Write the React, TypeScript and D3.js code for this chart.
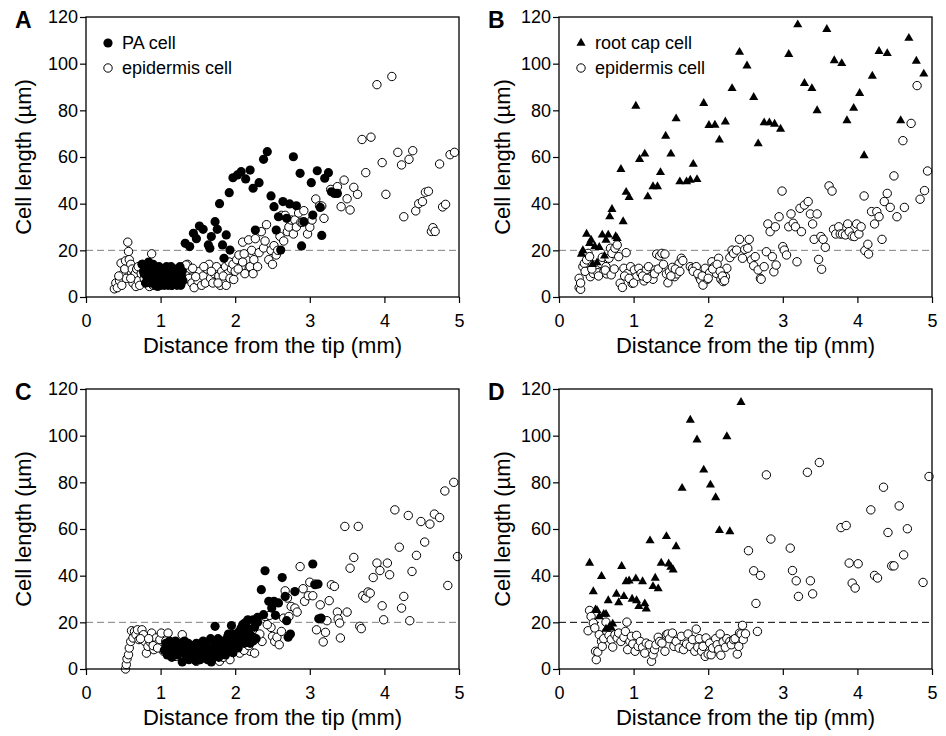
import * as d3 from 'd3';
import React, { useRef, useEffect } from 'react';

type Pt = [number, number];

const xTicks = [0, 1, 2, 3, 4, 5];
const yTicks = [0, 20, 40, 60, 80, 100, 120];
const threshold = 20;

// panel A: PA cells (filled circles)
const paA: Pt[] = [
  [0.75, 14], [0.77, 11], [0.8, 13], [0.82, 8], [0.84, 15], [0.86, 10], [0.87, 6], [0.88, 12], [0.9, 14],
  [0.92, 9], [0.93, 5], [0.95, 11], [0.96, 7], [0.98, 13], [1.0, 9], [1.01, 6], [1.02, 12], [1.04, 8],
  [1.05, 5], [1.06, 10], [1.08, 13], [1.09, 7], [1.1, 11], [1.12, 6], [1.13, 9], [1.14, 13], [1.15, 5],
  [1.16, 8], [1.18, 11], [1.19, 6], [1.2, 12], [1.21, 9], [1.22, 5], [1.24, 10], [1.25, 7], [1.26, 13],
  [1.27, 5], [1.28, 9], [1.29, 11], [1.3, 7], [0.8, 6], [0.85, 9], [0.9, 7], [1.0, 11], [1.1, 5], [0.96, 4.5],
  [1.16, 12], [0.78, 10], [0.88, 8], [1.03, 7], [1.17, 10],
  [1.33, 23], [1.39, 21.6], [1.44, 27.3], [1.48, 25], [1.52, 30.4], [1.57, 29], [1.64, 22.3], [1.68, 25.9],
  [1.73, 32.3], [1.76, 29], [1.66, 20.9], [1.79, 40], [1.83, 22.3], [1.85, 16.6], [1.88, 26.6], [1.93, 20.1],
  [1.92, 44.7], [1.97, 51.1], [2.03, 52.3], [2.08, 53.7], [2.14, 50.6], [2.2, 54.4], [2.24, 46.6], [2.32, 49],
  [2.27, 28.7], [2.38, 59], [2.43, 62.3], [2.48, 43.3], [2.52, 38.7], [2.55, 28.7], [2.58, 34.4], [2.61, 20.1],
  [2.64, 40.9], [2.69, 33.7], [2.73, 39.9], [2.78, 60.1], [2.82, 39.1], [2.87, 53], [2.89, 21.9], [2.92, 32.3],
  [3.02, 49], [3.04, 35.1], [3.1, 54.1], [3.14, 38.4], [3.16, 26.4], [3.2, 50.9], [3.25, 53.3], [3.29, 45.1],
  [3.33, 44.4], [3.37, 44.4]
];

// panel A: epidermis cells (open circles)
const epiA: Pt[] = [
  [0.38, 3.5], [0.4, 6], [0.42, 4], [0.45, 7], [0.47, 14.5], [0.48, 5], [0.5, 10], [0.52, 12], [0.53, 15.5],
  [0.54, 8], [0.56, 23.5], [0.57, 19.5], [0.58, 16], [0.6, 14], [0.62, 12], [0.63, 6], [0.64, 9], [0.66, 10],
  [0.67, 4.5], [0.68, 12], [0.7, 7], [0.72, 5], [0.74, 10], [0.76, 14], [0.78, 8], [0.8, 6], [0.82, 12],
  [0.85, 4.5], [0.88, 18.5], [0.9, 5], [0.92, 11], [0.95, 7], [1.0, 5], [1.05, 8], [1.1, 6], [1.15, 5],
  [1.2, 9], [1.3, 13], [1.33, 10], [1.36, 14], [1.38, 8], [1.4, 12], [1.42, 6], [1.45, 4], [1.48, 9],
  [1.5, 7], [1.52, 11], [1.55, 5], [1.57, 9], [1.6, 6], [1.62, 12], [1.65, 14], [1.67, 8], [1.7, 6],
  [1.72, 10], [1.75, 13], [1.78, 9], [1.8, 5], [1.82, 11], [1.85, 7], [1.87, 13], [1.88, 5], [1.9, 10],
  [1.92, 15], [1.95, 12], [1.97, 14], [2.0, 11], [2.02, 16], [2.05, 18], [2.08, 13], [2.1, 23.5], [2.13, 10],
  [2.15, 16], [2.18, 24.5], [2.2, 13], [2.22, 20], [2.24, 10], [2.25, 16], [2.27, 25], [2.3, 13], [2.32, 19],
  [2.35, 28], [2.38, 21], [2.4, 24], [2.42, 31], [2.45, 16], [2.48, 20], [2.5, 14], [2.52, 22], [2.55, 18],
  [2.57, 20], [2.6, 26], [2.62, 35], [2.65, 24], [2.67, 35], [2.7, 28], [2.72, 30], [2.75, 33], [2.78, 27],
  [2.8, 33], [2.82, 30], [2.85, 36], [2.88, 32], [2.9, 32], [2.92, 37], [2.97, 27], [3.0, 29.9], [3.03, 33],
  [3.08, 42], [3.13, 39.1], [3.19, 33.7], [3.16, 39], [3.28, 46.1], [3.37, 47.3], [3.42, 38.7], [3.46, 50.1],
  [3.5, 42.1], [3.54, 37.3], [3.59, 47], [3.64, 44], [3.7, 67.5], [3.75, 53.3], [3.82, 68.5], [3.9, 91],
  [3.97, 57.6], [4.02, 44], [4.1, 94.5], [4.18, 62], [4.23, 56.6], [4.26, 34.4], [4.33, 59], [4.38, 62.7],
  [4.42, 36.9], [4.46, 40], [4.51, 40.9], [4.55, 44.9], [4.59, 45.3], [4.63, 28.1], [4.65, 29.7], [4.68, 28.1],
  [4.74, 57], [4.78, 38.6], [4.82, 39.7], [4.88, 61], [4.94, 62],
  [0.44, 9], [0.6, 8], [0.7, 13], [1.34, 13.7], [1.43, 12.3], [1.47, 8.7], [1.58, 13], [1.68, 11], [1.77, 6],
  [1.84, 9], [1.93, 8], [1.98, 7.5], [2.04, 12], [2.1, 15], [2.12, 18.5]
];

// panel B: root cap cells (triangles)
const capB: Pt[] = [
  [0.3, 18.4], [0.32, 19.9], [0.37, 27], [0.41, 23], [0.43, 24.4], [0.45, 14], [0.48, 21.6], [0.51, 14.7],
  [0.54, 21.3], [0.58, 26.6], [0.61, 17.6], [0.63, 24.4], [0.66, 26.6], [0.68, 34.4], [0.71, 37.6], [0.76, 25.9],
  [0.78, 25.1], [0.83, 54.7], [0.86, 32.3], [0.9, 44.9], [0.94, 42.7], [1.03, 81.8], [1.08, 59], [1.15, 61.3],
  [1.19, 43], [1.26, 47.3], [1.32, 47.3], [1.36, 53.4], [1.43, 69], [1.5, 61.3], [1.57, 76.4], [1.62, 49.4],
  [1.71, 49.4], [1.76, 50.1], [1.8, 56.9], [1.85, 50.4], [1.94, 83], [2.01, 73.6], [2.09, 73.7], [2.15, 67.3],
  [2.23, 75.1], [2.32, 89.4], [2.42, 104.9], [2.52, 99.1], [2.61, 85.6], [2.67, 65.7], [2.75, 74.7], [2.82, 74.7],
  [2.89, 74.1], [2.97, 72], [3.08, 104], [3.2, 116.7], [3.29, 91.6], [3.39, 89.4], [3.46, 79.9], [3.59, 114.7],
  [3.69, 101.3], [3.79, 100.1], [3.86, 75.6], [3.95, 80.9], [4.03, 87.3], [4.09, 60.6], [4.2, 94.7], [4.29, 105.3],
  [4.4, 104.4], [4.58, 75.6], [4.69, 110.9], [4.79, 101.1], [4.89, 95.6]
];

// panel B: epidermis cells (open circles)
const epiB: Pt[] = [
  [0.27, 4], [0.29, 3.3], [0.27, 8], [0.29, 6], [0.32, 13], [0.34, 14.4], [0.37, 15.9], [0.39, 18.7],
  [0.41, 17.3], [0.42, 8.7], [0.46, 10.1], [0.48, 13.7], [0.5, 12.3], [0.52, 10.4], [0.56, 14.4], [0.58, 17],
  [0.6, 10.8], [0.63, 13], [0.64, 9.9], [0.67, 16.6], [0.69, 20.9], [0.71, 18.7], [0.75, 20.9], [0.78, 22.3],
  [0.8, 17.3], [0.82, 5.9], [0.85, 4.1], [0.87, 12.3], [0.9, 19], [0.92, 10.1], [0.96, 13], [0.98, 5.9],
  [1.01, 11.6], [1.04, 8.7], [1.07, 12.3], [1.1, 10.1], [1.14, 6.9], [1.17, 11.6], [1.2, 13], [1.23, 8.7],
  [1.26, 7.6], [1.29, 11.6], [1.31, 18.4], [1.35, 17.6], [1.38, 18.7], [1.42, 18.4], [1.44, 9.9], [1.46, 6.1],
  [1.48, 10.8], [1.52, 12.7], [1.55, 8.7], [1.58, 9.9], [1.61, 14.4], [1.64, 16.6], [1.66, 15.6], [1.76, 13],
  [1.79, 12.3], [1.84, 13], [1.88, 8.7], [1.9, 7.3], [1.93, 5.1], [1.96, 12.3], [1.99, 7.6], [2.02, 10.4],
  [2.05, 15.1], [2.08, 13], [2.11, 10.1], [2.14, 16.6], [2.17, 7.6], [2.2, 6.6], [2.23, 8.7], [2.25, 12.3],
  [2.29, 16.9], [2.32, 20.1], [2.34, 18.7], [2.38, 20.1], [2.42, 24.7], [2.46, 16.6], [2.49, 20.4], [2.53, 20.9],
  [2.55, 24.7], [2.58, 15.9], [2.61, 13.4], [2.63, 17.3], [2.67, 11.6], [2.7, 8], [2.71, 7.6], [2.75, 13],
  [2.78, 19.4], [2.8, 31.3], [2.83, 28], [2.86, 17.3], [2.88, 10.8], [2.9, 30.1], [2.91, 13.7], [2.95, 34.4],
  [2.99, 45.4], [3.0, 21.6], [3.02, 20.1], [3.05, 18], [3.08, 30.1], [3.11, 35.6], [3.14, 31.6], [3.17, 30.1],
  [3.19, 15.1], [3.23, 38], [3.25, 28], [3.29, 39.4], [3.34, 40.9], [3.37, 35.6], [3.4, 31.3], [3.42, 24.7],
  [3.46, 35.6], [3.48, 16.1], [3.51, 25.9], [3.52, 11.9], [3.54, 24.7], [3.57, 21.3], [3.62, 47.6], [3.66, 45.4],
  [3.68, 29], [3.71, 27], [3.75, 30.1], [3.77, 27], [3.8, 27], [3.84, 26.6], [3.87, 31.3], [3.89, 28],
  [3.93, 26.1], [3.96, 25.9], [3.99, 31.3], [4.02, 27], [4.05, 30.1], [4.09, 43.3], [4.1, 19.9], [4.14, 22.6],
  [4.15, 18.4], [4.19, 36.6], [4.23, 31.3], [4.26, 36.6], [4.29, 34.4], [4.33, 24.7], [4.36, 40.9], [4.4, 44.4],
  [4.44, 38.4], [4.49, 51.9], [4.53, 34.4], [4.61, 67], [4.63, 38.4], [4.72, 74.4], [4.8, 90.6], [4.84, 41.9],
  [4.9, 45.6], [4.94, 54],
  [0.35, 11], [0.44, 12], [0.53, 9], [0.62, 11.5], [0.7, 9.5], [0.74, 12], [0.88, 9], [0.94, 8], [1.0, 6],
  [1.12, 9], [1.18, 8], [1.28, 10], [1.33, 12], [1.4, 14], [1.5, 9], [1.56, 12], [1.62, 11], [1.8, 11],
  [1.86, 10], [1.92, 9], [2.0, 8], [2.06, 12], [2.12, 14], [2.16, 11], [2.19, 9], [2.22, 7]
];

// panel C: PA cells (filled circles)
const paC: Pt[] = [
  [1.05, 8], [1.07, 11], [1.09, 6], [1.1, 9], [1.12, 12], [1.14, 7], [1.15, 5], [1.17, 10], [1.19, 8],
  [1.2, 12], [1.22, 6], [1.24, 9], [1.25, 11], [1.27, 7], [1.29, 3], [1.3, 9], [1.32, 12], [1.33, 6],
  [1.35, 8], [1.37, 11], [1.38, 4], [1.4, 7], [1.42, 10], [1.43, 5], [1.45, 8], [1.47, 3.5], [1.48, 11],
  [1.5, 6], [1.52, 9], [1.53, 4], [1.55, 7], [1.57, 12], [1.58, 5], [1.6, 8], [1.62, 10], [1.63, 4],
  [1.65, 7], [1.67, 13], [1.68, 3], [1.7, 9], [1.72, 6], [1.73, 11], [1.75, 8], [1.77, 13], [1.78, 5],
  [1.8, 10], [1.82, 7], [1.83, 12], [1.85, 9], [1.87, 6], [1.88, 11], [1.9, 14], [1.92, 8], [1.93, 10],
  [1.95, 12], [1.97, 7], [1.98, 15], [2.0, 10], [2.02, 13], [2.04, 9], [2.05, 16], [2.07, 12], [2.09, 14],
  [2.1, 19], [2.12, 11], [2.14, 15], [2.15, 20], [2.17, 13], [2.19, 17], [2.2, 11], [2.22, 14], [2.24, 12],
  [2.26, 18], [2.28, 13], [2.3, 20],
  [1.73, 18.3], [1.95, 18.6], [1.91, 15], [2.08, 17.6], [2.13, 19.7], [2.17, 21.1], [2.24, 21.1], [2.3, 22.1],
  [2.35, 34], [2.38, 23.3], [2.4, 42.1], [2.45, 29], [2.49, 26.1], [2.52, 29], [2.54, 23], [2.58, 28.3],
  [2.63, 39.2], [2.67, 31.1], [2.69, 20.7], [2.71, 13.6], [2.74, 15], [2.8, 33.2], [3.04, 45], [3.07, 36.1],
  [3.11, 36.4], [3.12, 21.5], [3.15, 21.8]
];

// panel C: epidermis cells (open circles)
const epiC: Pt[] = [
  [0.53, 0], [0.54, 1.9], [0.55, 4.4], [0.57, 6.1], [0.58, 9], [0.6, 11.8], [0.61, 16.4], [0.63, 13.3],
  [0.65, 16.1], [0.67, 14.7], [0.69, 16.8], [0.71, 12.6], [0.75, 16.8], [0.77, 14.7], [0.79, 11.8], [0.81, 6.8],
  [0.83, 9.7], [0.86, 11.6], [0.88, 15.4], [0.91, 8.3], [0.94, 13.3], [0.97, 11.1], [0.99, 12.6], [1.01, 15.4],
  [1.1, 15.4], [1.04, 7.6], [1.13, 9], [1.21, 5.4], [1.29, 14.7], [1.35, 6.1], [1.48, 3.3], [1.53, 6.8],
  [1.62, 9], [1.79, 3.3], [1.93, 4], [2.06, 6.8], [2.2, 7.6], [2.26, 6.8], [2.29, 14.7], [2.36, 11.8],
  [2.4, 22.5], [2.46, 23], [2.48, 17.8], [2.5, 14], [2.53, 11.8], [2.56, 13.6], [2.59, 10.4], [2.62, 16.1],
  [2.65, 21.8], [2.67, 33.5], [2.7, 30.4], [2.72, 22.5], [2.75, 26.8], [2.8, 26.1], [2.83, 24.4], [2.87, 43.9],
  [2.91, 34.4], [2.93, 29], [2.98, 31.4], [3.0, 37.2], [3.04, 31.4], [3.07, 36.4], [3.09, 16.8], [3.14, 27.5],
  [3.16, 21.5], [3.18, 11.6], [3.21, 15.7], [3.23, 20.7], [3.26, 29.3], [3.29, 36.1], [3.33, 35.4], [3.37, 24.4],
  [3.38, 21.5], [3.4, 19.7], [3.41, 13.3], [3.47, 61.1], [3.5, 24.4], [3.54, 43.2], [3.59, 47.8], [3.65, 61.1],
  [3.67, 18.3], [3.69, 17.3], [3.71, 31.4], [3.75, 30.4], [3.78, 33], [3.81, 32.5], [3.85, 39.2], [3.9, 45.4],
  [3.94, 42.2], [3.97, 27.1], [3.99, 21.1], [4.04, 45.4], [4.07, 40.4], [4.14, 68.2], [4.2, 52.2], [4.23, 26.1],
  [4.26, 31.1], [4.32, 65.8], [4.34, 20.7], [4.37, 41.8], [4.43, 48.7], [4.49, 63.2], [4.54, 54.4], [4.61, 62.1],
  [4.67, 66.4], [4.74, 64.9], [4.81, 76.3], [4.85, 35.8], [4.93, 80], [4.98, 48.2],
  [0.73, 13], [0.84, 13], [0.9, 10], [0.96, 9], [1.07, 12], [1.18, 10], [1.26, 8], [1.4, 9], [1.56, 5],
  [1.7, 7], [1.84, 5], [1.98, 9], [2.02, 11], [2.12, 8], [2.18, 10], [2.33, 15], [2.43, 19]
];

// panel D: root cap cells (triangles)
const capD: Pt[] = [
  [0.41, 45.4], [0.46, 33.2], [0.49, 25.4], [0.51, 25.1], [0.54, 22.5], [0.57, 39.7], [0.6, 23.5], [0.63, 23.5],
  [0.66, 29.3], [0.63, 17.1], [0.68, 18.3], [0.7, 17.6], [0.72, 19.3], [0.77, 32.1], [0.8, 28.5], [0.84, 44],
  [0.87, 31.1], [0.9, 37.5], [0.94, 37.8], [0.98, 30], [1.03, 38.7], [1.04, 29.3], [1.07, 26.8], [1.12, 37.5],
  [1.15, 28], [1.17, 25.8], [1.22, 55], [1.26, 35.4], [1.29, 39], [1.33, 34.4], [1.37, 45.4], [1.44, 56.8],
  [1.47, 45.1], [1.5, 43.7], [1.53, 42.5], [1.57, 52.5], [1.65, 77.5], [1.76, 106.7], [1.85, 98.2], [1.94, 85.3],
  [2.03, 78.9], [2.1, 73.5], [2.15, 59.4], [2.25, 99.6], [2.29, 58.9], [2.44, 114.3]
];

// panel D: epidermis cells (open circles)
const epiD: Pt[] = [
  [0.39, 16.4], [0.41, 25.1], [0.43, 22.5], [0.46, 19.7], [0.48, 17.6], [0.49, 7.6], [0.5, 4], [0.52, 7.3],
  [0.54, 14.7], [0.57, 11.8], [0.58, 9.7], [0.6, 13], [0.63, 20.1], [0.64, 16.1], [0.67, 14.4], [0.7, 12.6],
  [0.72, 9.4], [0.75, 14.7], [0.78, 13.3], [0.8, 15.4], [0.83, 11.8], [0.87, 13.6], [0.89, 16.1], [0.91, 20.1],
  [0.92, 8.3], [0.95, 11.8], [0.97, 14], [0.99, 10.7], [1.02, 7.6], [1.04, 14.4], [1.06, 9.7], [1.09, 11.8],
  [1.12, 9.3], [1.15, 6.8], [1.17, 11.1], [1.21, 10.4], [1.24, 3.3], [1.26, 6.1], [1.28, 8.3], [1.3, 10.4],
  [1.33, 13.6], [1.35, 11.8], [1.38, 11.1], [1.42, 7.6], [1.44, 14.7], [1.46, 15], [1.48, 13], [1.52, 15.4],
  [1.54, 9.7], [1.57, 11.8], [1.61, 9], [1.64, 14], [1.67, 8.3], [1.71, 10.7], [1.73, 15], [1.76, 9.7],
  [1.79, 12.6], [1.82, 7.6], [1.84, 17.1], [1.86, 9.3], [1.88, 13], [1.91, 7.6], [1.93, 9.7], [1.96, 5.4],
  [1.97, 13.3], [2.0, 6.4], [2.02, 11.1], [2.04, 6.1], [2.06, 9], [2.1, 13], [2.12, 10.4], [2.14, 8.3],
  [2.16, 15], [2.17, 5.9], [2.2, 11.6], [2.23, 9.3], [2.25, 13], [2.29, 11.8], [2.31, 10.4], [2.34, 12.6],
  [2.36, 13], [2.39, 6.4], [2.41, 9.7], [2.42, 15.4], [2.44, 15], [2.46, 18.7], [2.47, 12.6], [2.5, 15.1],
  [2.54, 50.7], [2.61, 42.1], [2.64, 28.1], [2.66, 16.1], [2.7, 40.1], [2.78, 83.2], [2.84, 55.7], [3.1, 51.8],
  [3.13, 42.2], [3.18, 37.8], [3.21, 31.1], [3.33, 84.3], [3.37, 37.8], [3.4, 32.2], [3.49, 88.5], [3.78, 60.6],
  [3.85, 61.5], [3.89, 45.4], [3.93, 36.8], [3.97, 34.7], [4.01, 45.1], [4.18, 68.2], [4.23, 40.1], [4.27, 39],
  [4.35, 77.9], [4.41, 58.5], [4.46, 44.2], [4.49, 44.2], [4.56, 69.9], [4.62, 48.9], [4.67, 60.1], [4.88, 37.1],
  [4.96, 82.5]
];

const panels = [
  { letter: 'A', left: 86, top: 17, open: epiA, solid: paA, solidShape: 'circle', legend: ['PA cell', 'epidermis cell'], dash: '#808080', titleX: 31 },
  { letter: 'B', left: 559, top: 17, open: epiB, solid: capB, solidShape: 'triangle', legend: ['root cap cell', 'epidermis cell'], dash: '#808080', titleX: 510 },
  { letter: 'C', left: 86, top: 389, open: epiC, solid: paC, solidShape: 'circle', legend: null, dash: '#808080', titleX: 31 },
  { letter: 'D', left: 559, top: 389, open: epiD, solid: capD, solidShape: 'triangle', legend: null, dash: '#000000', titleX: 510 }
];

const W = 373;
const H = 280;
const font = '"Liberation Sans", Arial, Helvetica, sans-serif';

const App = () => {
  const ref = useRef(null);

  useEffect(() => {
    const svg = d3.select(ref.current);
    svg.selectAll('*').remove();

    const x = d3.scaleLinear().domain([0, 5]).range([0, W]);
    const y = d3.scaleLinear().domain([0, 120]).range([H, 0]);
    const tri = d3.symbol().type(d3.symbolTriangle).size(36);
    const r = 4.2;

    panels.forEach(p => {
      const g = svg.append('g').attr('transform', `translate(${p.left}, ${p.top})`);

      // axes
      const xAxis = d3.axisBottom(x).tickValues(xTicks).tickSize(6).tickPadding(11).tickFormat(d3.format('d'));
      const yAxis = d3.axisLeft(y).tickValues(yTicks).tickSize(6).tickPadding(2).tickFormat(d3.format('d'));
      const gx = g.append('g').attr('transform', `translate(0, ${H})`).call(xAxis);
      const gy = g.append('g').call(yAxis);
      [gx, gy].forEach(a => {
        a.select('.domain').remove();
        a.selectAll('line').attr('stroke', '#000').attr('stroke-width', 1.2);
        a.selectAll('text').attr('font-family', font).attr('font-size', 18).attr('fill', '#000');
      });

      // threshold line
      g.append('line')
        .attr('x1', 0).attr('x2', W)
        .attr('y1', y(threshold)).attr('y2', y(threshold))
        .attr('stroke', p.dash).attr('stroke-width', 1)
        .attr('stroke-dasharray', '7,4');

      // open circles (epidermis)
      g.append('g').selectAll('circle')
        .data(p.open)
        .enter().append('circle')
        .attr('cx', d => x(d[0]))
        .attr('cy', d => y(d[1]))
        .attr('r', r)
        .attr('fill', '#fff')
        .attr('stroke', '#000')
        .attr('stroke-width', 1);

      // solid marks
      if (p.solidShape === 'circle') {
        g.append('g').selectAll('circle')
          .data(p.solid)
          .enter().append('circle')
          .attr('cx', d => x(d[0]))
          .attr('cy', d => y(d[1]))
          .attr('r', r + 0.4)
          .attr('fill', '#000');
      } else {
        g.append('g').selectAll('path')
          .data(p.solid)
          .enter().append('path')
          .attr('d', tri)
          .attr('transform', d => `translate(${x(d[0])}, ${y(d[1])})`)
          .attr('fill', '#000');
      }

      // frame
      g.append('rect')
        .attr('width', W).attr('height', H)
        .attr('fill', 'none').attr('stroke', '#000').attr('stroke-width', 1.3);

      // legend
      if (p.legend) {
        const lg = g.append('g').attr('font-family', font).attr('font-size', 18);
        if (p.solidShape === 'circle') {
          lg.append('circle').attr('cx', 22).attr('cy', 26).attr('r', r + 0.4).attr('fill', '#000');
        } else {
          lg.append('path').attr('d', tri).attr('transform', 'translate(22, 26)').attr('fill', '#000');
        }
        lg.append('text').attr('x', 36).attr('y', 32).text(p.legend[0]);
        lg.append('circle').attr('cx', 22).attr('cy', 51).attr('r', r)
          .attr('fill', '#fff').attr('stroke', '#000');
        lg.append('text').attr('x', 36).attr('y', 57).text(p.legend[1]);
      }

      // axis titles
      svg.append('text')
        .attr('transform', `translate(${p.titleX}, ${p.top + H / 2}) rotate(-90)`)
        .attr('text-anchor', 'middle')
        .attr('font-family', font).attr('font-size', 22)
        .text('Cell length (µm)');
      svg.append('text')
        .attr('x', p.left + W / 2).attr('y', p.top + H + 56)
        .attr('text-anchor', 'middle')
        .attr('font-family', font).attr('font-size', 22)
        .text('Distance from the tip (mm)');

      // panel letter
      svg.append('text')
        .attr('x', p.left - 71).attr('y', p.top + 11)
        .attr('font-family', font).attr('font-size', 23).attr('font-weight', 'bold')
        .text(p.letter);
    });
  }, []);

  return (
    <svg ref={ref} width={946} height={736}
      style={{ position: 'absolute', left: 0, top: 0, background: '#fff' }} />
  );
};

export default App;
